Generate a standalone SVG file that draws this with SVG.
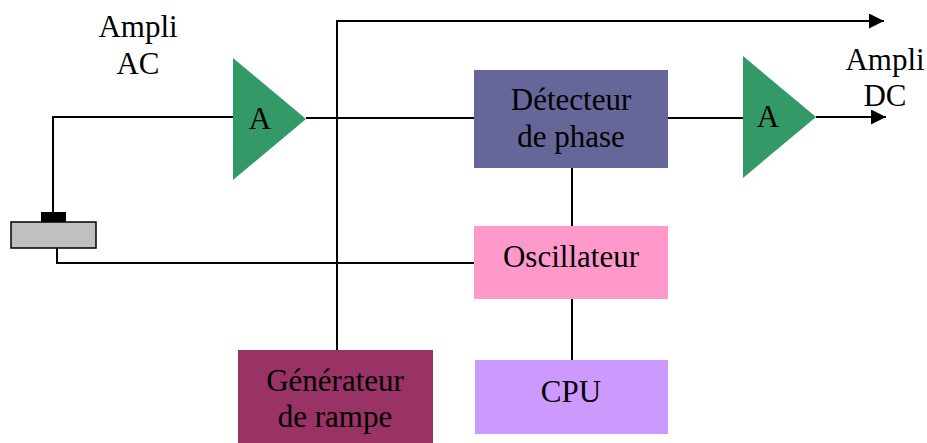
<svg xmlns="http://www.w3.org/2000/svg" width="927" height="443" viewBox="0 0 927 443">
<style>
  .t { font-family: 'Liberation Serif', 'Tinos', 'Times New Roman', 'DejaVu Serif', serif; font-size: 31px; fill: #000; text-anchor: middle; }
  .w { stroke: #000; stroke-width: 2; fill: none; }
  .amp { fill: #339966; }
</style>
<defs>
  <marker id="ah" markerWidth="15" markerHeight="15" viewBox="0 0 15 15" refX="15" refY="7.5" orient="auto" markerUnits="userSpaceOnUse">
    <path d="M0,0 L15,7.5 L0,15 Z" fill="#000"/>
  </marker>
</defs>
<rect width="927" height="443" fill="#fff"/>
<g id="connectors">
  <polyline class="w" points="53,212 53,117 233,117"/>
  <polyline class="w" points="57,248 57,263 474,263"/>
  <line class="w" x1="306" y1="118" x2="474" y2="118"/>
  <polyline class="w" points="337,350 337,21 884,21" marker-end="url(#ah)"/>
  <line class="w" x1="668" y1="118" x2="743" y2="118"/>
  <line class="w" x1="816" y1="117" x2="886" y2="117" marker-end="url(#ah)"/>
  <line class="w" x1="572" y1="168" x2="572" y2="226"/>
  <line class="w" x1="572" y1="299" x2="572" y2="360"/>
</g>
<g id="label-ampli-ac">
  <text class="t" font-family="Liberation Serif, serif" x="138" y="37">Ampli</text>
  <text class="t" font-family="Liberation Serif, serif" x="138" y="74">AC</text>
</g>
<g id="label-ampli-dc">
  <text class="t" x="885" y="70">Ampli</text>
  <text class="t" x="885" y="106">DC</text>
</g>
<g id="capteur">
  <rect x="11" y="222" width="85" height="26" fill="#c0c0c0" stroke="#000" stroke-width="1.5"/>
  <rect x="41" y="212" width="25" height="10" fill="#000"/>
</g>
<g id="ampli-ac">
  <polygon class="amp" points="233,58 306,119 233,180"/>
  <text class="t" x="260" y="129">A</text>
</g>
<g id="ampli-dc">
  <polygon class="amp" points="743,56 816,117 743,178"/>
  <text class="t" x="768" y="127">A</text>
</g>
<g id="detecteur">
  <rect x="474" y="70" width="194" height="98" fill="#666699"/>
  <text class="t" x="571" y="110">Détecteur</text>
  <text class="t" x="571" y="147">de phase</text>
</g>
<g id="oscillateur">
  <rect x="474" y="226" width="194" height="73" fill="#ff99cc"/>
  <text class="t" x="571" y="267">Oscillateur</text>
</g>
<g id="cpu">
  <rect x="475" y="360" width="193" height="74" fill="#cc99ff"/>
  <text class="t" x="571" y="402">CPU</text>
</g>
<g id="generateur">
  <rect x="238" y="350" width="195" height="93" fill="#993366"/>
  <text class="t" x="335" y="391">Générateur</text>
  <text class="t" x="335" y="427">de rampe</text>
</g>
</svg>
